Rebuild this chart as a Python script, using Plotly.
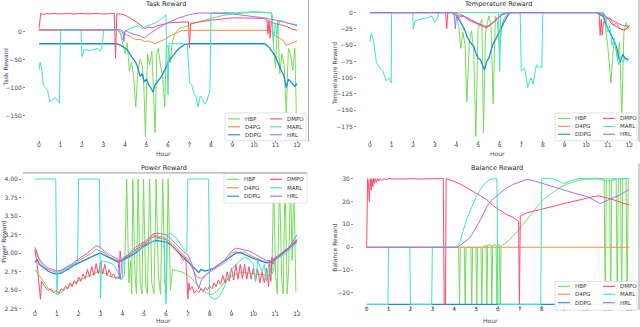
import plotly.graph_objects as go

W, H = 640, 327
FONT = "DejaVu Sans"
TICK_COLOR = "#3e4763"
SERIES = ["HBP", "D4PG", "DDPG", "DMPO", "MARL", "HRL"]
COLORS = ["#74dd57", "#ff8a4c", "#1c8fd4", "#ff4b6b", "#3fe3c9", "#a86cff"]
HOUR_TICKS = [0, 1, 2, 3, 4, 5, 6, 7, 8, 9, 10, 11, 12]

# ---------------- Task reward (hour, value) ----------------
TASK_HBP = [(0, 2), (3.7, 2), (3.8, -5), (3.9, -25), (4.0, -40), (4.1, -20), (4.2, -70), (4.3, -55), (4.4, -80),
            (4.5, -135), (4.6, -70), (4.7, -50), (4.8, -60), (4.88, -100), (4.95, -187), (5.05, -40), (5.15, -60),
            (5.25, -35), (5.32, -100), (5.4, -180), (5.48, -40), (5.55, -30), (5.65, -60), (5.75, -80), (5.85, -135),
            (5.92, -30), (6.0, -25), (6.1, -55), (6.2, -20), (6.3, -6), (6.5, 5), (7.0, 12), (7.5, 18), (8.0, 23),
            (8.5, 28), (9.0, 31), (9.5, 33), (10.0, 34), (10.5, 34), (10.8, 33), (10.9, -20), (11.0, -65), (11.1, 20),
            (11.2, -75), (11.3, -40), (11.4, -60), (11.5, -148), (11.6, -30), (11.7, -40), (11.8, -70), (11.9, -30),
            (11.97, -148)]
TASK_D4PG = [(0, 2), (3.6, 2), (3.8, 0), (4.0, -5), (4.2, -8), (4.4, -12), (4.5, -15), (4.7, -14), (4.9, -18),
             (5.1, -17), (5.3, -20), (5.4, -22), (5.6, -18), (5.8, -15), (6.0, -10), (6.2, -6), (6.4, -2), (6.6, 1),
             (7.0, 2), (8.0, 2), (9.0, 2), (10.0, 2), (10.6, 2), (10.8, 0), (11.0, -8), (11.2, -12), (11.4, -18),
             (11.5, -25), (11.7, -22), (11.9, -18), (12.0, -17)]
TASK_DDPG = [(0, -22), (3.6, -22), (3.8, -25), (4.0, -30), (4.1, -32), (4.3, -45), (4.5, -55), (4.6, -65), (4.7, -80),
             (4.8, -75), (4.9, -90), (5.0, -85), (5.1, -95), (5.2, -100), (5.3, -108), (5.4, -95), (5.5, -90),
             (5.7, -80), (5.9, -65), (6.0, -55), (6.2, -45), (6.4, -35), (6.6, -28), (6.8, -23), (7.0, -22),
             (10.5, -22), (10.7, -28), (10.9, -40), (11.0, -45), (11.1, -55), (11.2, -65), (11.3, -72), (11.4, -80),
             (11.5, -100), (11.6, -85), (11.7, -90), (11.8, -95), (11.9, -98), (12.0, -93)]
TASK_DMPO = [(0, 5), (0.08, 32), (0.2, 30), (0.35, 32), (0.5, 31), (0.7, 32), (1.0, 31), (1.3, 32), (1.6, 31),
             (2.0, 32), (2.3, 31), (2.6, 32), (3.0, 31), (3.3, 32), (3.5, 32), (3.56, -48), (3.62, 31), (3.8, 31),
             (4.0, 29), (4.2, 25), (4.5, 18), (4.7, 12), (4.9, 5), (5.1, 8), (5.3, 6), (5.5, 10), (5.8, 13),
             (6.0, 15), (6.3, 16), (6.6, 17), (6.95, 17), (7.0, -30), (7.05, 14), (7.3, 16), (7.6, 18), (8.0, 20),
             (8.5, 22), (9.0, 24), (9.5, 24), (10.0, 24), (10.4, 23), (10.6, 22), (10.65, -5), (10.7, 20),
             (10.75, -12), (10.8, 18), (10.9, 15), (11.0, 14), (11.2, 12), (11.5, 9), (11.8, 4), (12.0, 2)]
TASK_MARL = [(0, -68), (0.05, -55), (0.12, -65), (0.2, -95), (0.3, -100), (0.4, -105), (0.5, -125), (0.6, -122),
             (0.75, -118), (0.85, -122), (0.95, -128), (1.0, 2), (1.95, 2), (2.0, -45), (2.1, -32), (2.3, -34),
             (2.5, -33), (2.7, -30), (2.85, -35), (2.95, -25), (3.0, 2), (3.7, 2), (3.8, -5), (3.9, -15), (4.0, 0),
             (4.2, 5), (4.4, 8), (4.6, 10), (4.8, 5), (4.9, 8), (5.0, 10), (5.2, 12), (5.4, 15), (5.6, 20), (5.8, 25),
             (5.9, 30), (6.0, -113), (6.05, -22), (6.9, -22), (7.0, -90), (7.1, -95), (7.2, -110), (7.3, -115),
             (7.4, -135), (7.5, -115), (7.6, -120), (7.7, -130), (7.8, -125), (7.9, -108), (7.95, -105), (8.0, 33),
             (8.5, 33), (9.0, 34), (9.5, 34), (10.0, 35), (10.5, 34), (10.8, 33), (10.85, 30), (10.9, -20),
             (11.0, 15), (11.05, -5), (11.2, 20), (11.5, 15), (11.8, 13), (12.0, 12)]
TASK_HRL = [(0, 3), (3.8, 3), (3.9, 0), (3.95, -18), (4.0, 2), (4.2, -2), (4.5, -6), (4.7, -8), (4.9, -12), (5.0, -8),
            (5.2, -3), (5.5, 5), (5.8, 11), (6.0, 16), (6.5, 24), (7.0, 30), (7.5, 33), (8.0, 33), (8.5, 32),
            (9.0, 31), (9.5, 29), (10.0, 27), (10.5, 24), (11.0, 20), (11.5, 16), (12.0, 10)]

# ---------------- Temperature reward ----------------
TEMP_HBP = [(0, 0), (3.9, 0), (4.0, -5), (4.1, -20), (4.2, -55), (4.3, -30), (4.4, -50), (4.48, -137), (4.6, -45),
            (4.7, -28), (4.8, -60), (4.9, -190), (5.0, -25), (5.1, -15), (5.18, -10), (5.25, -185), (5.35, -30),
            (5.5, -5), (5.6, -20), (5.7, -140), (5.8, -5), (5.9, -15), (6.0, -60), (6.1, -20), (6.2, -10), (6.3, -5),
            (6.5, 0), (10.8, 0), (10.9, -30), (11.0, -50), (11.15, -108), (11.3, -40), (11.45, -70), (11.55, -45),
            (11.65, -160), (11.75, -30), (11.85, -15), (11.95, -25)]
TEMP_D4PG = [(0, 0), (4.0, 0), (4.2, -3), (4.5, -8), (4.7, -12), (4.9, -15), (5.1, -18), (5.3, -20), (5.5, -22),
             (5.7, -15), (5.9, -8), (6.1, -3), (6.3, -1), (6.5, 0), (10.7, 0), (10.9, -5), (11.0, -10), (11.1, -8),
             (11.3, -20), (11.4, -15), (11.5, -22), (11.7, -27), (11.9, -25), (12.0, -20)]
TEMP_DDPG = [(0, 0), (3.85, 0), (4.0, -5), (4.2, -15), (4.4, -28), (4.5, -38), (4.7, -48), (4.8, -52), (4.9, -62),
             (5.0, -70), (5.1, -72), (5.2, -80), (5.3, -88), (5.4, -75), (5.5, -70), (5.6, -58), (5.7, -48),
             (5.8, -42), (5.9, -36), (6.0, -30), (6.1, -22), (6.2, -15), (6.3, -8), (6.4, -3), (6.5, 0), (10.5, 0),
             (10.8, -6), (10.96, -21), (11.2, -37), (11.4, -52), (11.57, -77), (11.7, -64), (11.8, -70),
             (11.96, -72)]
TEMP_DMPO = [(0, 0), (3.5, 0), (3.55, -25), (3.6, 0), (4.0, 0), (4.1, -8), (4.3, -4), (4.5, -10), (4.7, -14),
             (4.9, -16), (5.1, -18), (5.3, -22), (5.4, -24), (5.5, -20), (5.7, -15), (5.9, -8), (6.1, -3), (6.3, 0),
             (10.6, 0), (10.65, -35), (10.7, -10), (10.75, -35), (10.8, -15), (10.9, -12), (11.0, -8), (11.2, -18),
             (11.4, -22), (11.6, -25), (11.8, -27), (12.0, -20)]
TEMP_MARL = [(0, -45), (0.05, -32), (0.15, -40), (0.25, -72), (0.3, -77), (0.45, -85), (0.6, -90), (0.75, -105),
             (0.9, -100), (0.98, -108), (1.0, 0), (1.98, 0), (2.0, -25), (2.1, -12), (2.3, -10), (2.5, -9),
             (2.7, -8), (2.85, -5), (3.0, -15), (3.1, -10), (3.2, 0), (3.9, 0), (4.0, -5), (4.1, 0), (5.95, 0),
             (6.0, -90), (6.05, 0), (6.95, 0), (7.0, -90), (7.15, -85), (7.3, -115), (7.45, -100), (7.55, -110),
             (7.7, -80), (7.8, -85), (7.9, -82), (7.95, -85), (8.0, 0), (10.8, 0), (10.9, -5), (11.0, -30),
             (11.1, -20), (11.2, -50), (11.3, -40), (11.4, -60), (11.5, -80), (11.6, -70), (11.7, -75), (11.8, -72),
             (11.9, -75), (12.0, -72)]
TEMP_HRL = [(0, 0), (3.85, 0), (3.9, -5), (3.95, -25), (4.0, -5), (4.2, -5), (4.5, -8), (4.7, -12), (4.9, -16),
            (5.1, -20), (5.3, -22), (5.5, -20), (5.7, -16), (5.9, -10), (6.1, -4), (6.3, -1), (6.5, 0), (10.5, 0),
            (10.7, -2), (10.9, -6), (11.1, -10), (11.3, -14), (11.5, -17), (11.7, -20), (11.9, -20), (12.0, -21)]

# ---------------- Power reward ----------------
POWER_HBP = [(0, 2.78), (0.2, 2.7), (0.4, 2.61), (0.6, 2.53), (0.8, 2.48), (1.0, 2.44), (1.2, 2.47), (1.4, 2.52),
             (1.6, 2.56), (1.8, 2.6), (2.0, 2.63), (2.2, 2.66), (2.4, 2.69), (2.6, 2.72), (2.8, 2.74), (3.0, 2.75),
             (3.2, 2.73), (3.4, 2.69), (3.6, 2.67), (3.8, 2.66), (4.0, 2.67), (4.1, 2.7), (4.2, 4.0), (4.3, 2.6),
             (4.38, 2.9), (4.43, 2.45), (4.48, 4.0), (4.58, 2.7), (4.65, 2.45), (4.72, 4.0), (4.82, 2.6),
             (4.9, 2.45), (4.97, 4.0), (5.07, 2.55), (5.15, 2.45), (5.25, 4.0), (5.35, 2.6), (5.45, 2.45),
             (5.55, 4.0), (5.65, 2.7), (5.75, 2.45), (5.85, 4.0), (5.95, 2.6), (6.02, 2.45), (6.1, 4.0), (6.2, 2.5),
             (6.3, 2.78), (6.5, 2.77), (6.7, 2.75), (6.9, 2.72), (7.1, 2.68), (7.3, 2.62), (7.5, 2.55), (7.7, 2.5),
             (7.9, 2.46), (8.1, 2.44), (8.3, 2.48), (8.5, 2.54), (8.7, 2.62), (8.9, 2.68), (9.1, 2.71), (9.3, 2.73),
             (9.5, 2.74), (9.7, 2.74), (9.9, 2.73), (10.1, 2.72), (10.3, 2.72), (10.5, 2.71), (10.7, 2.7),
             (10.85, 2.72), (10.93, 4.0), (11.02, 2.7), (11.1, 2.45), (11.2, 4.0), (11.3, 2.65), (11.37, 2.45),
             (11.45, 4.0), (11.55, 2.45), (11.62, 2.8), (11.7, 4.0), (11.78, 2.9), (11.85, 4.0), (11.95, 2.48)]
POWER_D4PG = [(0, 3.05), (0.2, 2.9), (0.4, 2.82), (0.6, 2.78), (0.8, 2.76), (1.0, 2.74), (1.2, 2.76), (1.4, 2.8),
              (1.6, 2.83), (1.8, 2.86), (2.0, 2.9), (2.2, 2.93), (2.4, 2.97), (2.6, 3.0), (2.8, 3.05), (3.0, 3.03),
              (3.2, 3.0), (3.4, 2.95), (3.6, 2.92), (3.8, 2.9), (4.0, 2.9), (4.2, 2.95), (4.4, 3.0), (4.6, 3.05),
              (4.8, 3.1), (5.0, 3.13), (5.2, 3.18), (5.4, 3.25), (5.6, 3.24), (5.8, 3.22), (6.0, 3.2), (6.2, 3.15),
              (6.4, 3.1), (6.6, 3.03), (6.8, 2.98), (7.0, 2.92), (7.2, 2.8), (7.4, 2.68), (7.6, 2.66), (7.8, 2.7),
              (8.0, 2.75), (8.2, 2.78), (8.4, 2.82), (8.6, 2.85), (8.8, 2.9), (9.0, 3.0), (9.2, 3.02), (9.4, 3.0),
              (9.6, 3.02), (9.8, 2.98), (10.0, 2.95), (10.2, 2.92), (10.4, 2.9), (10.6, 2.88), (10.8, 2.88),
              (11.0, 2.92), (11.2, 2.96), (11.4, 3.0), (11.6, 3.05), (11.8, 3.12), (12.0, 3.2)]
POWER_DDPG = [(0, 2.88), (0.1, 2.92), (0.2, 2.85), (0.4, 2.8), (0.6, 2.76), (0.8, 2.73), (1.0, 2.72), (1.2, 2.73),
              (1.4, 2.76), (1.6, 2.8), (1.8, 2.84), (2.0, 2.87), (2.2, 2.9), (2.4, 2.93), (2.6, 2.95), (2.8, 2.98),
              (3.0, 3.0), (3.2, 2.97), (3.4, 2.93), (3.6, 2.9), (3.8, 2.88), (4.0, 2.9), (4.2, 2.93), (4.4, 2.97),
              (4.6, 3.0), (4.8, 3.05), (5.0, 3.1), (5.2, 3.13), (5.4, 3.16), (5.6, 3.17), (5.8, 3.16), (6.0, 3.15),
              (6.2, 3.12), (6.4, 3.06), (6.6, 3.0), (6.8, 2.95), (7.0, 2.88), (7.2, 2.82), (7.4, 2.77), (7.5, 2.74),
              (7.6, 2.78), (7.8, 2.76), (8.0, 2.78), (8.2, 2.8), (8.4, 2.84), (8.6, 2.88), (8.8, 2.92), (9.0, 2.97),
              (9.2, 3.0), (9.4, 3.01), (9.6, 2.98), (9.8, 2.95), (10.0, 2.93), (10.2, 2.91), (10.4, 2.89),
              (10.6, 2.87), (10.8, 2.88), (11.0, 2.92), (11.2, 2.96), (11.4, 3.02), (11.6, 3.07), (11.8, 3.11),
              (12.0, 3.16)]
POWER_DMPO = [(0, 3.05), (0.1, 2.85), (0.25, 2.38), (0.3, 2.62), (0.45, 2.55), (0.6, 2.5), (0.75, 2.52),
              (0.85, 2.47), (1.0, 2.5), (1.1, 2.46), (1.2, 2.52), (1.3, 2.5), (1.4, 2.56), (1.5, 2.52), (1.6, 2.6),
              (1.7, 2.55), (1.8, 2.63), (1.9, 2.58), (2.0, 2.68), (2.1, 2.62), (2.2, 2.72), (2.3, 2.66), (2.4, 2.78),
              (2.5, 2.68), (2.6, 2.82), (2.7, 2.7), (2.8, 2.86), (2.9, 2.72), (3.0, 2.88), (3.1, 2.72), (3.2, 2.85),
              (3.3, 2.7), (3.4, 2.78), (3.5, 2.68), (3.6, 2.72), (3.7, 2.66), (3.8, 2.68), (3.85, 2.66), (3.9, 3.03),
              (3.95, 2.9), (4.0, 2.92), (4.2, 2.96), (4.4, 2.98), (4.6, 3.04), (4.8, 3.08), (5.0, 3.12), (5.2, 3.16),
              (5.4, 3.22), (5.6, 3.22), (5.8, 3.2), (6.0, 3.18), (6.2, 3.12), (6.4, 3.06), (6.6, 3.0), (6.8, 2.9),
              (6.9, 2.95), (6.95, 2.7), (7.0, 2.38), (7.05, 2.6), (7.1, 2.5), (7.2, 2.55), (7.3, 2.46), (7.4, 2.5),
              (7.5, 2.47), (7.6, 2.52), (7.7, 2.48), (7.8, 2.54), (7.9, 2.5), (8.0, 2.56), (8.1, 2.52), (8.2, 2.6),
              (8.3, 2.55), (8.4, 2.64), (8.5, 2.58), (8.6, 2.7), (8.7, 2.6), (8.8, 2.75), (8.9, 2.62), (9.0, 2.8),
              (9.1, 2.64), (9.2, 2.85), (9.3, 2.65), (9.4, 2.85), (9.5, 2.66), (9.6, 2.85), (9.7, 2.65), (9.8, 2.82),
              (9.9, 2.65), (10.0, 2.8), (10.1, 2.62), (10.2, 2.78), (10.3, 2.6), (10.4, 2.75), (10.5, 2.6),
              (10.6, 2.8), (10.7, 2.55), (10.75, 2.9), (10.8, 2.62), (10.85, 2.95), (10.9, 2.85), (11.0, 2.92),
              (11.2, 2.96), (11.4, 3.0), (11.6, 3.05), (11.8, 3.12), (12.0, 3.18)]
POWER_MARL = [(0, 4.0), (0.95, 4.0), (1.0, 2.45), (1.05, 2.72), (1.2, 2.75), (1.5, 2.8), (1.8, 2.85), (1.95, 2.88),
              (2.0, 4.0), (2.95, 4.0), (3.0, 2.4), (3.05, 2.9), (3.3, 2.88), (3.6, 2.85), (3.8, 2.75), (3.9, 2.65),
              (4.0, 2.65), (4.05, 2.95), (4.4, 3.0), (4.8, 3.05), (5.2, 3.12), (5.6, 3.2), (5.9, 3.2), (6.0, 2.32),
              (6.05, 3.25), (6.2, 3.27), (6.5, 3.2), (6.8, 3.05), (6.95, 3.02), (7.0, 4.0), (7.95, 4.0), (8.0, 2.42),
              (8.2, 2.38), (8.4, 2.4), (8.6, 2.5), (8.8, 2.65), (9.0, 2.78), (9.2, 2.85), (9.4, 2.9), (9.6, 2.95),
              (9.8, 2.92), (10.0, 2.85), (10.1, 2.62), (10.2, 2.9), (10.4, 2.75), (10.5, 2.85), (10.6, 2.62),
              (10.7, 2.85), (10.8, 2.7), (10.9, 2.75), (11.0, 2.9), (11.2, 2.95), (11.5, 3.0), (11.8, 3.08),
              (12.0, 3.15)]
POWER_HRL = [(0, 3.08), (0.2, 2.92), (0.4, 2.85), (0.6, 2.8), (0.8, 2.78), (1.0, 2.76), (1.2, 2.77), (1.4, 2.8),
             (1.6, 2.84), (1.8, 2.88), (2.0, 2.92), (2.2, 2.95), (2.4, 3.0), (2.6, 3.05), (2.8, 3.1), (3.0, 3.08),
             (3.2, 3.02), (3.4, 2.98), (3.6, 2.95), (3.8, 2.92), (3.85, 2.75), (3.9, 2.65), (4.0, 2.92), (4.2, 2.96),
             (4.4, 3.02), (4.6, 3.08), (4.8, 3.12), (5.0, 3.15), (5.2, 3.2), (5.4, 3.26), (5.6, 3.27), (5.8, 3.26),
             (6.0, 3.25), (6.2, 3.2), (6.4, 3.14), (6.6, 3.08), (6.8, 3.02), (7.0, 2.98), (7.2, 2.85), (7.4, 2.6),
             (7.5, 2.52), (7.6, 2.62), (7.8, 2.7), (8.0, 2.76), (8.2, 2.8), (8.4, 2.84), (8.6, 2.88), (8.8, 2.95),
             (9.0, 3.03), (9.2, 3.07), (9.4, 3.06), (9.6, 3.05), (9.8, 3.03), (10.0, 3.0), (10.2, 2.97),
             (10.4, 2.93), (10.6, 2.9), (10.8, 2.9), (11.0, 2.94), (11.2, 2.98), (11.4, 3.03), (11.6, 3.07),
             (11.8, 3.15), (12.0, 3.25)]

# ---------------- Balance reward ----------------
BAL_HBP = [(0, 0), (4.2, 0), (4.24, -25), (4.28, 0), (4.46, 0), (4.5, -25), (4.54, 0), (4.76, 0), (4.8, -25),
           (4.84, 0), (4.99, 0), (5.03, -25), (5.07, 0), (5.22, 0), (5.26, -25), (5.3, 0), (5.45, 1), (5.49, -25),
           (5.53, 1), (5.68, 1), (5.72, -25), (5.76, 1), (5.91, 1), (5.95, -25), (5.99, 1), (6.06, 1), (6.1, -25),
           (6.14, 0.5), (6.3, 1.5), (6.5, 3), (6.7, 5), (6.9, 7), (7.1, 9.5), (7.3, 12), (7.5, 14.5), (7.7, 17),
           (7.9, 19), (8.1, 21), (8.3, 22.5), (8.5, 24), (8.8, 26), (9.1, 27.5), (9.4, 28.5), (9.7, 29.3),
           (10.0, 29.8), (10.5, 30), (10.85, 30), (10.9, -25), (10.95, 30), (11.1, 30), (11.15, -25), (11.2, 30),
           (11.4, 30), (11.45, -25), (11.5, 30), (11.6, 30), (11.65, -25), (11.7, 30), (11.85, 30), (11.9, -25),
           (11.95, 30), (12.0, 30)]
BAL_D4PG = [(0, 0), (3.0, 0), (6.0, 0), (9.0, 0), (12.0, 0)]
BAL_DDPG = [(0, -25), (3.0, -25), (6.0, -25), (9.0, -25), (12.0, -25)]
BAL_DMPO = [(0, 0), (0.04, 30), (0.08, 28), (0.12, 20), (0.16, 30), (0.2, 25), (0.24, 30), (0.28, 26.5),
            (0.32, 30), (0.36, 28), (0.4, 30), (0.45, 28.5), (0.5, 30), (0.55, 29), (0.6, 30), (0.7, 29.3),
            (0.8, 30), (0.9, 29.5), (1.0, 30), (1.5, 29.8), (2.0, 30), (2.5, 29.8), (3.0, 30), (3.5, 30),
            (3.54, -25), (3.6, -25), (3.63, 30), (3.8, 29.5), (4.0, 28.8), (4.3, 27.5), (4.6, 26), (4.9, 24.2),
            (5.2, 22.5), (5.5, 20.7), (5.8, 18), (6.1, 16), (6.4, 14.3), (6.7, 13), (6.94, 11.4), (6.98, -25),
            (7.02, 13.6), (7.3, 15), (7.6, 15.8), (8.0, 16.7), (8.4, 17.6), (8.8, 18.6), (9.2, 19.6), (9.6, 20.5),
            (10.0, 21.3), (10.3, 22), (10.6, 22.5), (10.9, 21.8), (11.2, 21), (11.5, 20), (11.8, 19), (12.0, 18.4)]
BAL_MARL = [(0, -25), (0.97, -25), (1.0, 0), (1.97, 0), (2.0, -25), (2.97, -25), (3.0, 0), (4.1, 0), (4.15, 0.5),
            (4.25, 2), (4.4, 7), (4.6, 13), (4.8, 17.5), (5.0, 22), (5.2, 25.3), (5.4, 28), (5.6, 29.5), (5.8, 30),
            (5.95, 30), (6.0, -25), (7.95, -25), (8.0, 30), (8.5, 30), (8.8, 28.5), (9.0, 27.8), (9.3, 29),
            (9.7, 30), (10.5, 30), (11.0, 29), (11.3, 29.5), (11.6, 30), (12.0, 30)]
BAL_HRL = [(0, 0), (4.1, 0), (4.3, 1), (4.5, 2.5), (4.7, 4), (4.9, 7), (5.2, 12), (5.5, 18), (5.7, 20.5),
           (5.95, 22.5), (6.2, 24.5), (6.4, 26), (6.7, 27.5), (7.0, 28.5), (7.3, 29.7), (7.6, 29.2), (8.0, 28),
           (8.5, 26.6), (9.0, 25), (9.5, 23.6), (10.06, 22.2), (10.4, 20.5), (10.67, 19.1), (11.0, 20.5),
           (11.6, 23), (12.0, 25.4)]

TASK = [TASK_HBP, TASK_D4PG, TASK_DDPG, TASK_DMPO, TASK_MARL, TASK_HRL]
TEMP = [TEMP_HBP, TEMP_D4PG, TEMP_DDPG, TEMP_DMPO, TEMP_MARL, TEMP_HRL]
POWER = [POWER_HBP, POWER_D4PG, POWER_DDPG, POWER_DMPO, POWER_MARL, POWER_HRL]
BALANCE = [BAL_HBP, BAL_D4PG, BAL_DDPG, BAL_DMPO, BAL_MARL, BAL_HRL]

TASK_YTICKS = [0, -50, -100, -150]
TEMP_YTICKS = [0, -25, -50, -75, -100, -125, -150, -175]
POWER_YTICKS = [2.25, 2.5, 2.75, 3.0, 3.25, 3.5, 3.75, 4.0]
BAL_YTICKS = [-20, -10, 0, 10, 20, 30]

# layout geometry in pixels
PANELS = [
    dict(title="Task Reward", series=TASK, yticks=TASK_YTICKS, yfmt="",
         xdom=(26, 308), ydom=(5, 141), xcal=(39, 297), ycal=((0, 31.7), (-150, 116.7)),
         title_xy=(165, 4.5), ylab_xy=(5, 68), hour_xy=(163, 155), xstand=-3,
         legend=dict(box=(225, 114, 306, 142), cols=(228, 270), rows=(120, 128, 136))),
    dict(title="Temperature Reward", series=TEMP, yticks=TEMP_YTICKS, yfmt="",
         xdom=(357, 639), ydom=(6, 141), xcal=(370, 629.3), ycal=((0, 12.7), (-175, 127.7)),
         title_xy=(498, 4.5), ylab_xy=(335, 75), hour_xy=(497, 155), xstand=-3,
         legend=dict(box=(555, 114, 637, 142), cols=(558, 603), rows=(119.5, 127.5, 135.5))),
    dict(title="Power Reward", series=POWER, yticks=POWER_YTICKS, yfmt=".2f",
         xdom=(22, 308), ydom=(174.5, 312), xcal=(35, 297), ycal=((4.0, 180.7), (2.25, 311.7)),
         title_xy=(164, 169.5), ylab_xy=(4, 244), hour_xy=(163, 323.5), xstand=-3,
         legend=dict(box=(224, 175, 307, 205), cols=(227, 270), rows=(181, 189.5, 198))),
    dict(title="Balance Reward", series=BALANCE, yticks=BAL_YTICKS, yfmt="",
         xdom=(354, 639), ydom=(174, 308.5), xcal=(366.7, 629.3), ycal=((30, 180.3), (-20, 295.7)),
         title_xy=(497, 169.5), ylab_xy=(335, 250), hour_xy=(490, 323), xstand=-5,
         legend=dict(box=(555, 284, 637, 313), cols=(558, 603), rows=(289, 297, 305.5))),
]


def fx(p):
    return p / W


def fy(p):
    return 1 - p / H


fig = go.Figure()
shapes = []
annotations = []

for i, pan in enumerate(PANELS, start=1):
    sfx = "" if i == 1 else str(i)
    # axis ranges from pixel calibration
    per_h = (pan["xcal"][1] - pan["xcal"][0]) / 12.0
    xrange = [(pan["xdom"][0] - pan["xcal"][0]) / per_h, (pan["xdom"][1] - pan["xcal"][0]) / per_h]
    (v0, p0), (v1, p1) = pan["ycal"]
    slope = (p1 - p0) / (v1 - v0)
    ytop = v0 + (pan["ydom"][0] - p0) / slope
    ybot = v0 + (pan["ydom"][1] - p0) / slope

    for name, color, pts in zip(SERIES, COLORS, pan["series"]):
        fig.add_trace(go.Scatter(
            x=[h for h, _ in pts], y=[v for _, v in pts], name=name, mode="lines",
            line=dict(color=color, width=1.3 if name == "DDPG" else 1.0),
            xaxis="x" + sfx, yaxis="y" + sfx, showlegend=False,
            hovertemplate=name + ": %{y}<extra></extra>"))

    common = dict(showgrid=False, zeroline=False, showline=False, ticks="outside", ticklen=2,
                  tickwidth=0.8, tickcolor="#8a8f9c",
                  tickfont=dict(family=FONT, size=6, color=TICK_COLOR))
    fig.update_layout(**{
        "xaxis" + sfx: dict(domain=[fx(pan["xdom"][0]), fx(pan["xdom"][1])], range=xrange,
                            anchor="y" + sfx, tickmode="array", tickvals=HOUR_TICKS,
                            ticklabelstandoff=pan["xstand"], **common),
        "yaxis" + sfx: dict(domain=[fy(pan["ydom"][1]), fy(pan["ydom"][0])], range=[ybot, ytop],
                            anchor="x" + sfx, tickmode="array", tickvals=pan["yticks"],
                            tickformat=pan["yfmt"], **common),
    })

    annotations.append(dict(text=pan["title"], x=fx(pan["title_xy"][0]), y=fy(pan["title_xy"][1]),
                            xref="paper", yref="paper", showarrow=False, xanchor="center", yanchor="middle",
                            font=dict(family=FONT, size=6.5, color="#262626")))
    annotations.append(dict(text=pan["title"], x=fx(pan["ylab_xy"][0]), y=fy(pan["ylab_xy"][1]),
                            xref="paper", yref="paper", showarrow=False, textangle=-90,
                            xanchor="center", yanchor="middle",
                            font=dict(family=FONT, size=6, color=TICK_COLOR)))
    annotations.append(dict(text="Hour", x=fx(pan["hour_xy"][0]), y=fy(pan["hour_xy"][1]),
                            xref="paper", yref="paper", showarrow=False, xanchor="center", yanchor="middle",
                            font=dict(family=FONT, size=6, color=TICK_COLOR)))

    # legend (two columns, drawn compactly like the original)
    lg = pan["legend"]
    bx0, by0, bx1, by1 = lg["box"]
    shapes.append(dict(type="rect", xref="paper", yref="paper", x0=fx(bx0), x1=fx(bx1), y0=fy(by1), y1=fy(by0),
                       fillcolor="rgba(255,255,255,0.92)", line=dict(color="#dcdcdc", width=0.8)))
    for k, (name, color) in enumerate(zip(SERIES, COLORS)):
        cx = lg["cols"][k // 3]
        ry = lg["rows"][k % 3]
        shapes.append(dict(type="line", xref="paper", yref="paper", x0=fx(cx), x1=fx(cx + 12),
                           y0=fy(ry), y1=fy(ry), line=dict(color=color, width=1.1)))
        annotations.append(dict(text=name, x=fx(cx + 15), y=fy(ry), xref="paper", yref="paper",
                                showarrow=False, xanchor="left", yanchor="middle",
                                font=dict(family=FONT, size=5.5, color="#333333")))

# thin frame edges visible in the original composite
EDGE = "#a9aebb"
shapes.append(dict(type="line", xref="paper", yref="paper", x0=fx(308.5), x1=fx(308.5), y0=fy(143), y1=fy(0),
                   line=dict(color=EDGE, width=1.2)))
shapes.append(dict(type="line", xref="paper", yref="paper", x0=fx(639), x1=fx(639), y0=fy(143), y1=fy(0),
                   line=dict(color=EDGE, width=1.2)))
shapes.append(dict(type="line", xref="paper", yref="paper", x0=fx(23), x1=fx(307), y0=fy(174.5), y1=fy(174.5),
                   line=dict(color=EDGE, width=1.2)))
shapes.append(dict(type="line", xref="paper", yref="paper", x0=fx(639), x1=fx(639), y0=fy(313), y1=fy(165),
                   line=dict(color=EDGE, width=1.2)))

fig.update_layout(width=W, height=H, margin=dict(l=0, r=0, t=0, b=0), autosize=False,
                  paper_bgcolor="white", plot_bgcolor="white", showlegend=False,
                  shapes=shapes, annotations=annotations, font=dict(family=FONT))

fig.write_html("out.html", config={"displayModeBar": False},
               post_script="document.body.style.margin='0';document.body.style.overflow='hidden';")
